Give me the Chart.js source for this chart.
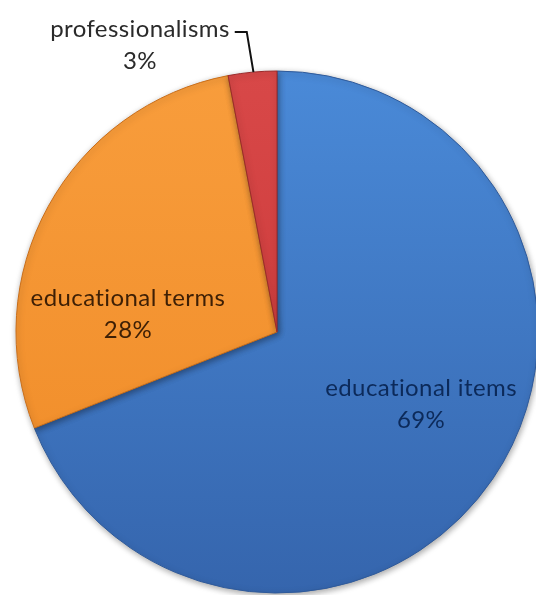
<!DOCTYPE html>
<html>
<head>
<meta charset="utf-8">
<script src="https://cdn.jsdelivr.net/npm/chart.js@4.4.1/dist/chart.umd.min.js"></script>
<style>
  html, body { margin: 0; padding: 0; background: #fff; }
  canvas { display: block; }
</style>
</head>
<body>
<canvas id="pieChart" width="536" height="595"></canvas>
<script>
const categories = ['educational items', 'educational terms', 'professionalisms'];
const shares = [69, 28, 3];
const percentLabels = ['69%', '28%', '3%'];

// slice colours: [top, bottom] of the vertical gradient, plus edge
const sliceTop = ['#4a8ad8', '#f89d3c', '#d84848'];
const sliceBottom = ['#3565ad', '#ef8a26', '#c63434'];
const sliceEdge = ['#2f5a9a', '#c96e1a', '#9a2a2a'];
const textColors = ['#0c2a5a', '#3d1f05', '#2a2a2a'];

// label block centre, in units of the pie radius from its centre
const labelOffsets = [[0.552, 0.276], [-0.571, -0.069], [-0.525, -1.10]];

function sliceFill(ctx) {
    const i = ctx.dataIndex;
    const area = ctx.chart.chartArea;
    if (!area) return sliceTop[i];
    const g = ctx.chart.ctx.createLinearGradient(0, area.top, 0, area.bottom);
    g.addColorStop(0, sliceTop[i]);
    g.addColorStop(1, sliceBottom[i]);
    return g;
}

const shadowPlugin = {
    id: 'pieShadow',
    beforeDatasetsDraw(chart) {
        const ctx = chart.ctx;
        ctx.save();
        ctx.shadowColor = 'rgba(0,0,0,0.35)';
        ctx.shadowBlur = 6;
        ctx.shadowOffsetX = 1;
        ctx.shadowOffsetY = 2;
    },
    afterDatasetsDraw(chart) {
        chart.ctx.restore();
    }
};

const labelPlugin = {
    id: 'sliceLabels',
    afterDraw(chart) {
        const ctx = chart.ctx;
        const arcs = chart.getDatasetMeta(0).data;
        ctx.save();
        ctx.font = '24px Lato, "Open Sans", sans-serif';
        ctx.letterSpacing = '0.4px';
        ctx.textAlign = 'center';
        ctx.textBaseline = 'middle';
        arcs.forEach((arc, i) => {
            const r = arc.outerRadius;
            const lx = arc.x + labelOffsets[i][0] * r;
            const ly = arc.y + labelOffsets[i][1] * r;
            ctx.fillStyle = textColors[i];
            ctx.fillText(categories[i], lx, ly - 16);
            ctx.fillText(percentLabels[i], lx, ly + 16);

            // leader line for the label that sits outside the pie
            if (labelOffsets[i][1] * labelOffsets[i][1] + labelOffsets[i][0] * labelOffsets[i][0] > 1) {
                const mid = (arc.startAngle + arc.endAngle) / 2;
                const ex = arc.x + Math.cos(mid) * r;
                const ey = arc.y + Math.sin(mid) * r;
                const w = ctx.measureText(categories[i]).width;
                const sx = lx + w / 2 + 5;
                const sy = ly - 13;
                ctx.strokeStyle = '#111';
                ctx.lineWidth = 2;
                ctx.beginPath();
                ctx.moveTo(sx, sy);
                ctx.lineTo(sx + 12, sy);
                ctx.lineTo(ex + 1, ey);
                ctx.stroke();
            }
        });
        ctx.restore();
    }
};

new Chart(document.getElementById('pieChart').getContext('2d'), {
    type: 'pie',
    data: {
        labels: categories,
        datasets: [{
            data: shares,
            backgroundColor: sliceFill,
            borderColor: sliceEdge,
            borderWidth: 1,
            radius: 261
        }]
    },
    options: {
        responsive: false,
        animation: false,
        layout: { padding: { left: 18, right: 0, top: 69, bottom: 0 } },
        plugins: {
            legend: { display: false },
            tooltip: { enabled: false }
        }
    },
    plugins: [shadowPlugin, labelPlugin]
});
</script>
</body>
</html>
